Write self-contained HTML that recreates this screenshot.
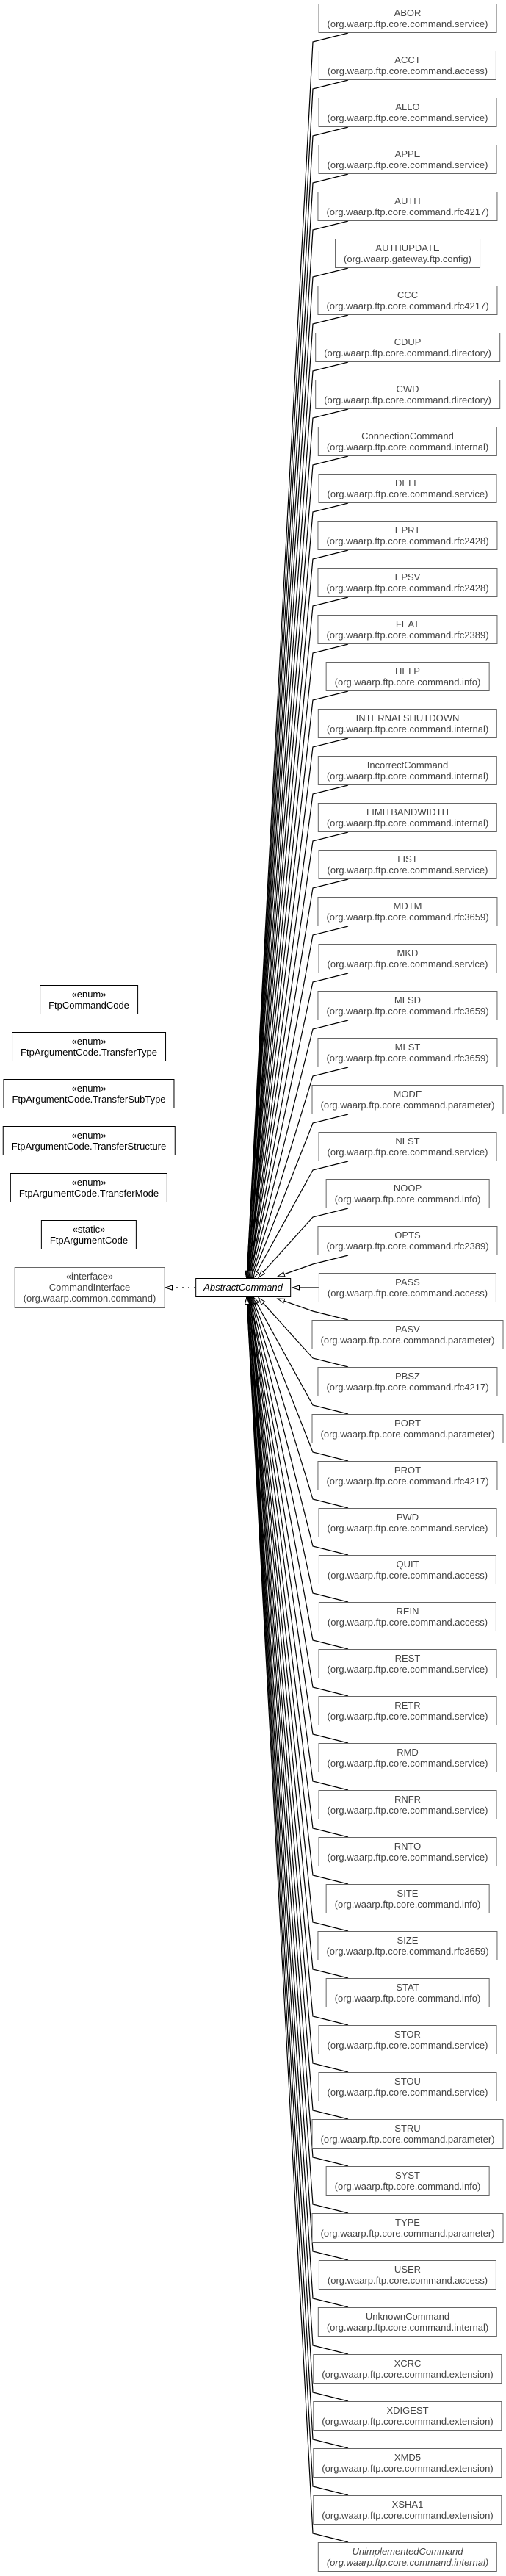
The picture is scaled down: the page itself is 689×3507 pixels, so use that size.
<!DOCTYPE html>
<html><head><meta charset="utf-8"><style>
body{margin:0;background:#fff;width:689px;height:3507px;position:relative;overflow:hidden;font-family:"Liberation Sans",Arial,sans-serif;font-size:13px;}
.b{position:absolute;transform:translateX(-50%);box-sizing:border-box;border:1px solid #666;color:#444;background:#fff;padding:4px 11px;line-height:15px;white-space:nowrap;text-align:center;height:40px;left:555px;z-index:2}
.l{left:121px;border-color:#000;color:#000}
.i{font-style:italic}
svg{position:absolute;left:0;top:0;z-index:1}
</style></head><body>
<svg width="689" height="3507" viewBox="0 0 689 3507">
<defs><marker id="a" markerUnits="userSpaceOnUse" markerWidth="12" markerHeight="9" refX="10" refY="3.5" orient="auto"><path d="M0.5,0.5 L10,3.5 L0.5,6.5 z" fill="#fff" stroke="#000" stroke-width="1"/></marker></defs>
<g fill="none" stroke="#000" stroke-width="1.2" marker-end="url(#a)">
<path d="M474 45L426 57L336 1740"/>
<path d="M474 109L426 121L336 1740"/>
<path d="M474 173L426 185L336 1740"/>
<path d="M474 237L426 249L336 1740"/>
<path d="M474 301L426 313L336 1740"/>
<path d="M474 365L426 377L336 1740"/>
<path d="M474 429L426 441L336 1740"/>
<path d="M474 493L426 505L337 1740"/>
<path d="M474 557L426 569L337 1740"/>
<path d="M474 621L426 633L337 1740"/>
<path d="M474 685L426 697L337 1740"/>
<path d="M474 749L426 761L337 1740"/>
<path d="M474 813L426 825L338 1740"/>
<path d="M474 877L426 889L338 1740"/>
<path d="M474 941L426 953L338 1740"/>
<path d="M474 1005L426 1017L338 1740"/>
<path d="M474 1069L426 1081L339 1740"/>
<path d="M474 1133L426 1145L339 1740"/>
<path d="M474 1197L426 1209L339 1740"/>
<path d="M474 1261L426 1273L340 1740"/>
<path d="M474 1325L426 1337L340 1740"/>
<path d="M474 1389L426 1401L341 1740"/>
<path d="M474 1453L426 1465L342 1740"/>
<path d="M474 1517L426 1529L343 1740"/>
<path d="M474 1581L426 1593L345 1740"/>
<path d="M474 1645L426 1657L352 1739"/>
<path d="M474 1709L426 1721L378 1738"/>
<path d="M434 1753L398 1753"/>
<path d="M474 1797L426 1785L378 1768"/>
<path d="M474 1861L426 1849L352 1767"/>
<path d="M474 1925L426 1913L345 1766"/>
<path d="M474 1989L426 1977L343 1766"/>
<path d="M474 2053L426 2041L342 1766"/>
<path d="M474 2117L426 2105L341 1766"/>
<path d="M474 2181L426 2169L340 1766"/>
<path d="M474 2245L426 2233L340 1766"/>
<path d="M474 2309L426 2297L339 1766"/>
<path d="M474 2373L426 2361L339 1766"/>
<path d="M474 2437L426 2425L339 1766"/>
<path d="M474 2501L426 2489L338 1766"/>
<path d="M474 2565L426 2553L338 1766"/>
<path d="M474 2629L426 2617L338 1766"/>
<path d="M474 2693L426 2681L338 1766"/>
<path d="M474 2757L426 2745L337 1766"/>
<path d="M474 2821L426 2809L337 1766"/>
<path d="M474 2885L426 2873L337 1766"/>
<path d="M474 2949L426 2937L337 1766"/>
<path d="M474 3013L426 3001L337 1766"/>
<path d="M474 3077L426 3065L336 1766"/>
<path d="M474 3141L426 3129L336 1766"/>
<path d="M474 3205L426 3193L336 1766"/>
<path d="M474 3269L426 3257L336 1766"/>
<path d="M474 3333L426 3321L336 1766"/>
<path d="M474 3397L426 3385L336 1766"/>
<path d="M474 3461L426 3449L336 1766"/>
<path d="M266 1753L225 1753" stroke-dasharray="2,6"/>
</g>
</svg>

<div class="b l" style="top:1341px">«enum»<br>FtpCommandCode</div>
<div class="b l" style="top:1405px">«enum»<br>FtpArgumentCode.TransferType</div>
<div class="b l" style="top:1469px">«enum»<br>FtpArgumentCode.TransferSubType</div>
<div class="b l" style="top:1533px">«enum»<br>FtpArgumentCode.TransferStructure</div>
<div class="b l" style="top:1597px">«enum»<br>FtpArgumentCode.TransferMode</div>
<div class="b l" style="top:1661px">«static»<br>FtpArgumentCode</div>
<div class="b" style="left:122px;top:1725px;height:56px">«interface»<br>CommandInterface<br>(org.waarp.common.command)</div>
<div class="b i" style="left:331px;top:1740px;height:26px;padding:4px 10px;line-height:16px;border-color:#000;color:#000">AbstractCommand</div>

<div class="b" style="top:5px">ABOR<br>(org.waarp.ftp.core.command.service)</div>
<div class="b" style="top:69px">ACCT<br>(org.waarp.ftp.core.command.access)</div>
<div class="b" style="top:133px">ALLO<br>(org.waarp.ftp.core.command.service)</div>
<div class="b" style="top:197px">APPE<br>(org.waarp.ftp.core.command.service)</div>
<div class="b" style="top:261px">AUTH<br>(org.waarp.ftp.core.command.rfc4217)</div>
<div class="b" style="top:325px">AUTHUPDATE<br>(org.waarp.gateway.ftp.config)</div>
<div class="b" style="top:389px">CCC<br>(org.waarp.ftp.core.command.rfc4217)</div>
<div class="b" style="top:453px">CDUP<br>(org.waarp.ftp.core.command.directory)</div>
<div class="b" style="top:517px">CWD<br>(org.waarp.ftp.core.command.directory)</div>
<div class="b" style="top:581px">ConnectionCommand<br>(org.waarp.ftp.core.command.internal)</div>
<div class="b" style="top:645px">DELE<br>(org.waarp.ftp.core.command.service)</div>
<div class="b" style="top:709px">EPRT<br>(org.waarp.ftp.core.command.rfc2428)</div>
<div class="b" style="top:773px">EPSV<br>(org.waarp.ftp.core.command.rfc2428)</div>
<div class="b" style="top:837px">FEAT<br>(org.waarp.ftp.core.command.rfc2389)</div>
<div class="b" style="top:901px">HELP<br>(org.waarp.ftp.core.command.info)</div>
<div class="b" style="top:965px">INTERNALSHUTDOWN<br>(org.waarp.ftp.core.command.internal)</div>
<div class="b" style="top:1029px">IncorrectCommand<br>(org.waarp.ftp.core.command.internal)</div>
<div class="b" style="top:1093px">LIMITBANDWIDTH<br>(org.waarp.ftp.core.command.internal)</div>
<div class="b" style="top:1157px">LIST<br>(org.waarp.ftp.core.command.service)</div>
<div class="b" style="top:1221px">MDTM<br>(org.waarp.ftp.core.command.rfc3659)</div>
<div class="b" style="top:1285px">MKD<br>(org.waarp.ftp.core.command.service)</div>
<div class="b" style="top:1349px">MLSD<br>(org.waarp.ftp.core.command.rfc3659)</div>
<div class="b" style="top:1413px">MLST<br>(org.waarp.ftp.core.command.rfc3659)</div>
<div class="b" style="top:1477px">MODE<br>(org.waarp.ftp.core.command.parameter)</div>
<div class="b" style="top:1541px">NLST<br>(org.waarp.ftp.core.command.service)</div>
<div class="b" style="top:1605px">NOOP<br>(org.waarp.ftp.core.command.info)</div>
<div class="b" style="top:1669px">OPTS<br>(org.waarp.ftp.core.command.rfc2389)</div>
<div class="b" style="top:1733px">PASS<br>(org.waarp.ftp.core.command.access)</div>
<div class="b" style="top:1797px">PASV<br>(org.waarp.ftp.core.command.parameter)</div>
<div class="b" style="top:1861px">PBSZ<br>(org.waarp.ftp.core.command.rfc4217)</div>
<div class="b" style="top:1925px">PORT<br>(org.waarp.ftp.core.command.parameter)</div>
<div class="b" style="top:1989px">PROT<br>(org.waarp.ftp.core.command.rfc4217)</div>
<div class="b" style="top:2053px">PWD<br>(org.waarp.ftp.core.command.service)</div>
<div class="b" style="top:2117px">QUIT<br>(org.waarp.ftp.core.command.access)</div>
<div class="b" style="top:2181px">REIN<br>(org.waarp.ftp.core.command.access)</div>
<div class="b" style="top:2245px">REST<br>(org.waarp.ftp.core.command.service)</div>
<div class="b" style="top:2309px">RETR<br>(org.waarp.ftp.core.command.service)</div>
<div class="b" style="top:2373px">RMD<br>(org.waarp.ftp.core.command.service)</div>
<div class="b" style="top:2437px">RNFR<br>(org.waarp.ftp.core.command.service)</div>
<div class="b" style="top:2501px">RNTO<br>(org.waarp.ftp.core.command.service)</div>
<div class="b" style="top:2565px">SITE<br>(org.waarp.ftp.core.command.info)</div>
<div class="b" style="top:2629px">SIZE<br>(org.waarp.ftp.core.command.rfc3659)</div>
<div class="b" style="top:2693px">STAT<br>(org.waarp.ftp.core.command.info)</div>
<div class="b" style="top:2757px">STOR<br>(org.waarp.ftp.core.command.service)</div>
<div class="b" style="top:2821px">STOU<br>(org.waarp.ftp.core.command.service)</div>
<div class="b" style="top:2885px">STRU<br>(org.waarp.ftp.core.command.parameter)</div>
<div class="b" style="top:2949px">SYST<br>(org.waarp.ftp.core.command.info)</div>
<div class="b" style="top:3013px">TYPE<br>(org.waarp.ftp.core.command.parameter)</div>
<div class="b" style="top:3077px">USER<br>(org.waarp.ftp.core.command.access)</div>
<div class="b" style="top:3141px">UnknownCommand<br>(org.waarp.ftp.core.command.internal)</div>
<div class="b" style="top:3205px">XCRC<br>(org.waarp.ftp.core.command.extension)</div>
<div class="b" style="top:3269px">XDIGEST<br>(org.waarp.ftp.core.command.extension)</div>
<div class="b" style="top:3333px">XMD5<br>(org.waarp.ftp.core.command.extension)</div>
<div class="b" style="top:3397px">XSHA1<br>(org.waarp.ftp.core.command.extension)</div>
<div class="b i" style="top:3461px">UnimplementedCommand<br>(org.waarp.ftp.core.command.internal)</div>
</body></html>
